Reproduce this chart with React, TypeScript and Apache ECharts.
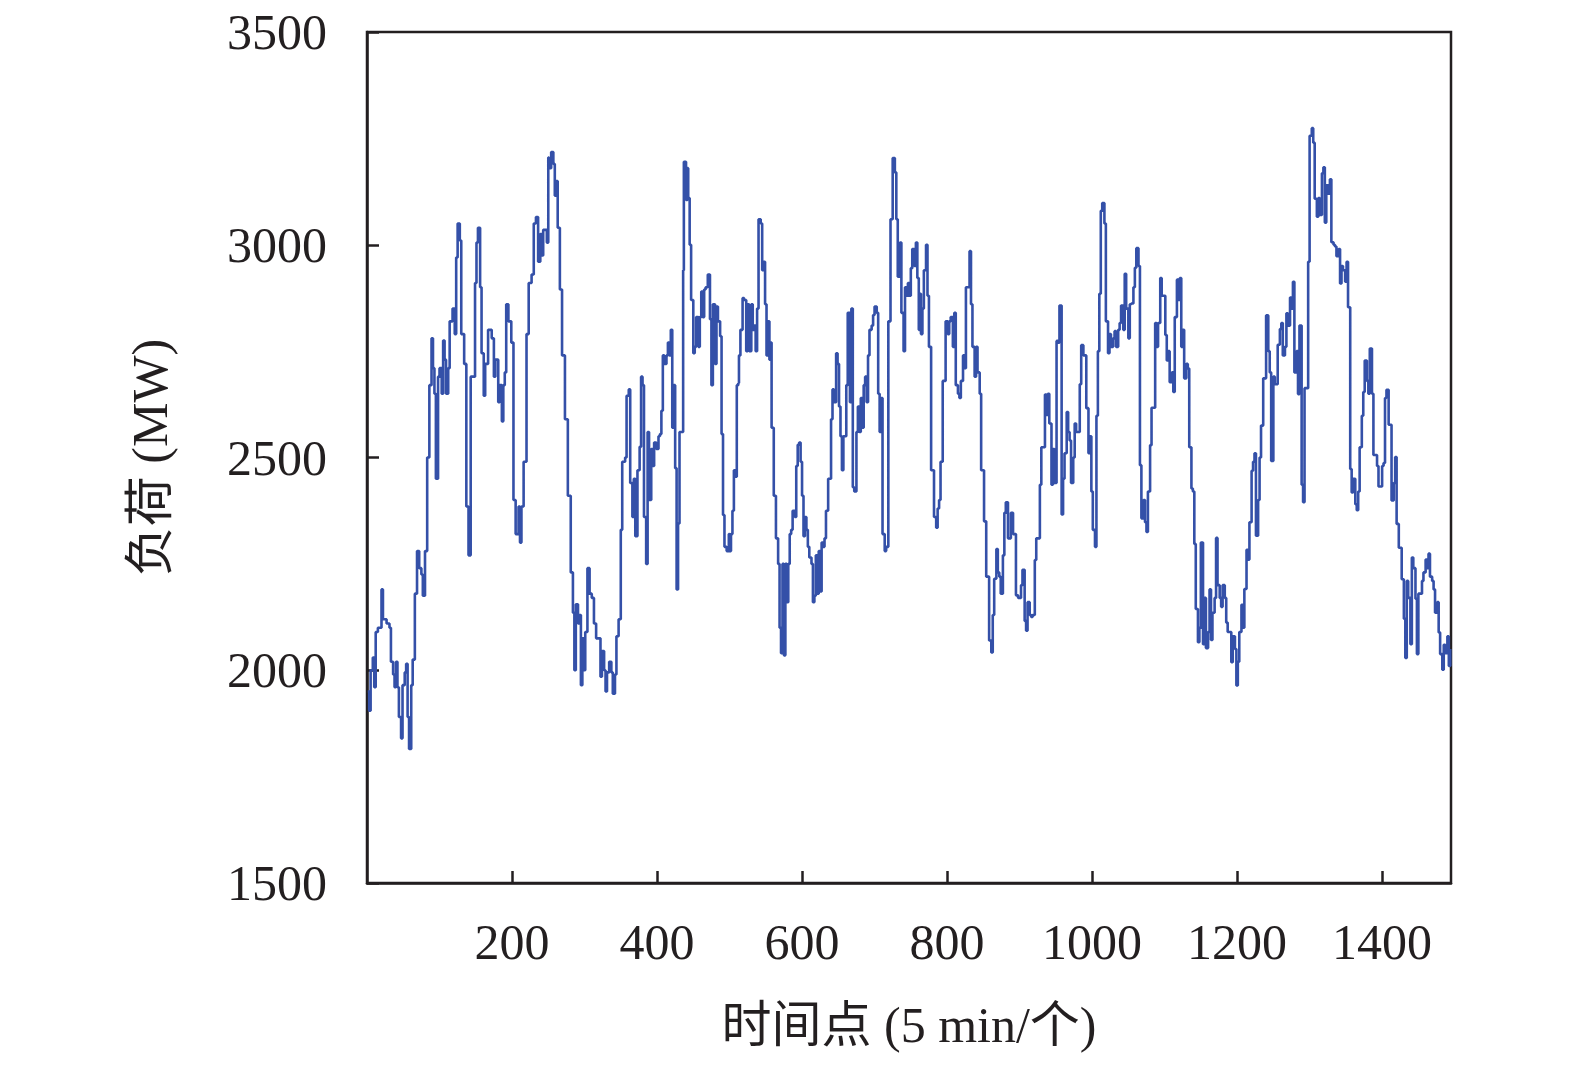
import React, { useEffect, useRef } from "react";
import * as echarts from "echarts";

// Load readings [time point, MW], split by stretch
const loadSeg1: [number, number][] = [
  [1, 1950], [3, 1905], [5, 2000], [8, 2030], [10, 1960], [12, 2090], [15, 2100], [20, 2190], [22, 2120], [27, 2110],
  [31, 2100], [33, 2020], [36, 1990], [38, 1960], [40, 2020], [42, 1960], [44, 1890], [47, 1840], [49, 1965], [52, 1995],
  [54, 2015], [56, 1890], [58, 1815], [61, 1965], [63, 2025], [66, 2180], [69, 2280], [72, 2240], [75, 2225], [77, 2175],
  [80, 2280], [83, 2500], [86, 2670], [89, 2780], [91, 2710], [93, 2650], [95, 2450], [98, 2690], [100, 2710], [103, 2650],
  [105, 2775], [107, 2730], [109, 2650], [112, 2710], [114, 2820], [118, 2850], [121, 2790], [123, 2970], [125, 3050], [128, 3010],
  [130, 2790], [134, 2720], [137, 2385], [140, 2270], [143, 2690], [146, 2690], [149, 2910], [151, 3005], [153, 3040], [156, 2900],
  [158, 2745], [161, 2645], [163, 2720], [167, 2800], [172, 2780], [175, 2690], [177, 2730], [181, 2630], [183, 2670], [186, 2585],
  [188, 2670], [190, 2700], [192, 2860], [195, 2820], [199, 2770], [202, 2400], [205, 2320], [209, 2385], [211, 2300], [213, 2385],
  [216, 2490], [220, 2790], [223, 2910], [227, 2930], [230, 3050], [233, 3065], [236, 2960], [239, 3025], [241, 2975], [243, 3035],
  [248, 3005], [250, 3205],
];

const loadSeg2: [number, number][] = [
  [251, 3180], [254, 3218], [257, 3190], [259, 3115], [261, 3150], [263, 3040], [266, 2895], [269, 2740], [273, 2590], [277, 2410],
  [281, 2230], [284, 2135], [286, 2000], [288, 2155], [291, 2110], [293, 2130], [295, 1965], [297, 2075], [299, 2000], [301, 2090],
  [304, 2240], [307, 2180], [310, 2170], [313, 2110], [316, 2075], [319, 2075], [322, 1985], [324, 2045], [327, 2000], [329, 1950],
  [331, 1995], [334, 2020], [337, 1995], [339, 1945], [342, 1990], [344, 2080], [347, 2120], [350, 2330], [352, 2490], [356, 2500],
  [358, 2645], [361, 2660], [363, 2440], [366, 2360], [368, 2450], [370, 2315], [373, 2470], [376, 2525], [378, 2690], [380, 2670],
  [382, 2360], [385, 2250], [387, 2560], [389, 2400], [392, 2520], [394, 2480], [396, 2535], [399, 2520], [402, 2550], [404, 2555],
  [406, 2610], [408, 2740], [410, 2720], [413, 2740], [415, 2770], [417, 2740], [419, 2800], [421, 2570], [423, 2670], [425, 2475],
  [427, 2190], [429, 2345], [431, 2560], [434, 2560], [436, 2940], [437, 3195], [440, 3105], [442, 3180], [443, 3110], [445, 3000],
  [447, 2870], [450, 2745], [452, 2760], [454, 2830], [457, 2760], [459, 2830], [461, 2890], [463, 2830], [465, 2895], [467, 2900],
  [470, 2930], [473, 2825], [475, 2670], [477, 2860], [480, 2720], [482, 2855], [484, 2820], [487, 2785], [489, 2555], [491, 2365],
  [493, 2290], [496, 2280], [499, 2320],
];

const loadSeg3: [number, number][] = [
  [500, 2280], [502, 2320], [504, 2375], [506, 2470], [508, 2455], [510, 2670], [512, 2675], [513, 2740], [515, 2800], [518, 2875],
  [520, 2870], [523, 2750], [525, 2860], [527, 2750], [530, 2860], [532, 2800], [534, 2810], [536, 2750], [538, 2850], [540, 3060],
  [543, 3050], [545, 2940], [547, 2960], [549, 2860], [551, 2740], [553, 2820], [555, 2730], [557, 2770], [558, 2570], [561, 2410],
  [564, 2310], [567, 2250], [569, 2100], [571, 2040], [573, 2250], [575, 2035], [577, 2250], [579, 2160], [581, 2250], [583, 2320],
  [585, 2330], [587, 2375], [590, 2360], [592, 2480], [594, 2530], [596, 2535], [598, 2490], [600, 2410], [602, 2315], [604, 2360],
  [606, 2330], [608, 2290], [610, 2265], [613, 2250], [615, 2160], [617, 2175], [619, 2270], [621, 2180], [623, 2280], [625, 2185],
  [627, 2300], [629, 2290], [631, 2310], [633, 2375], [636, 2450], [638, 2450], [640, 2590], [642, 2660], [644, 2630], [647, 2745],
  [649, 2720], [651, 2620], [653, 2550], [655, 2470], [657, 2550], [659, 2550], [661, 2670], [663, 2840], [666, 2630], [668, 2850],
  [670, 2430], [672, 2420], [675, 2560], [677, 2620], [679, 2560], [681, 2640], [683, 2570], [685, 2670], [687, 2690], [689, 2630],
  [691, 2740], [693, 2800], [696, 2810], [698, 2835], [700, 2855], [703, 2840], [705, 2650], [707, 2560], [709, 2640], [711, 2320],
  [714, 2280], [716, 2290], [719, 2820], [722, 3060], [725, 3204], [728, 3170], [730, 3060], [732, 2925], [735, 3005], [737, 2840],
  [740, 2750], [742, 2900], [745, 2880],
];

const loadSeg4: [number, number][] = [
  [746, 2910], [748, 2880], [750, 2945], [752, 2990], [755, 2950], [757, 3005], [759, 2922], [761, 2800], [762, 2885], [764, 2790],
  [766, 2850], [768, 2940], [771, 3000], [773, 2880], [775, 2760], [778, 2470], [782, 2360], [785, 2335], [787, 2380], [789, 2400],
  [791, 2490], [794, 2680], [797, 2680], [798, 2820], [801, 2790], [803, 2820], [805, 2830], [808, 2760], [810, 2840], [812, 2670],
  [815, 2650], [817, 2640], [819, 2680], [822, 2740], [824, 2710], [826, 2900], [829, 2900], [831, 2985], [833, 2860], [835, 2760],
  [838, 2690], [840, 2760], [842, 2700], [845, 2650], [847, 2470], [851, 2350], [854, 2220], [856, 2220], [858, 2070], [861, 2042],
  [863, 2130], [865, 2215], [868, 2285], [870, 2230], [872, 2220], [874, 2180], [877, 2270], [879, 2370], [881, 2395], [884, 2310],
  [886, 2310], [888, 2370], [891, 2320], [893, 2320], [895, 2176], [898, 2170], [900, 2170], [902, 2200], [904, 2236], [907, 2116],
  [909, 2093], [911, 2160], [914, 2130], [916, 2125], [918, 2130], [921, 2259], [923, 2310], [925, 2310], [928, 2436], [930, 2524],
  [932, 2524], [935, 2648], [937, 2600], [939, 2650], [941, 2580], [944, 2436], [946, 2520], [948, 2440], [951, 2774], [953, 2770],
  [955, 2857], [958, 2366], [960, 2450], [962, 2510], [965, 2607], [967, 2560], [969, 2540], [971, 2440], [974, 2500], [976, 2580],
  [978, 2560], [981, 2560], [983, 2672], [985, 2764], [988, 2740], [990, 2740], [992, 2616], [995, 2510],
];

const loadSeg5: [number, number][] = [
  [997, 2550], [999, 2420], [1001, 2330], [1004, 2290], [1006, 2598], [1008, 2750], [1010, 2885], [1012, 3080], [1014, 3098], [1017, 3050],
  [1019, 2820], [1022, 2745], [1024, 2790], [1026, 2760], [1029, 2780], [1031, 2797], [1033, 2760], [1036, 2800], [1038, 2816], [1040, 2857],
  [1043, 2800], [1045, 2932], [1047, 2850], [1050, 2780], [1052, 2860], [1054, 2862], [1057, 2900], [1059, 2946], [1061, 2992], [1064, 2950],
  [1066, 2482], [1068, 2357], [1071, 2400], [1073, 2348], [1075, 2325], [1077, 2420], [1080, 2529], [1082, 2617], [1084, 2617], [1087, 2816],
  [1089, 2760], [1091, 2816], [1094, 2922], [1096, 2880], [1098, 2880], [1101, 2788], [1103, 2728], [1105, 2750], [1107, 2677], [1110, 2700],
  [1112, 2654], [1114, 2830], [1117, 2918], [1119, 2870], [1121, 2922], [1123, 2760], [1125, 2800], [1127, 2686], [1130, 2720], [1132, 2709],
  [1134, 2524], [1137, 2427], [1139, 2420], [1141, 2297], [1143, 2144], [1146, 2066], [1148, 2100], [1150, 2300], [1153, 2061], [1155, 2170],
  [1157, 2052], [1160, 2090], [1162, 2190], [1164, 2071], [1166, 2135], [1169, 2170], [1171, 2311], [1173, 2200], [1176, 2170], [1178, 2149],
  [1180, 2200], [1183, 2170], [1185, 2112], [1187, 2090], [1190, 2090], [1192, 2019], [1194, 2080], [1197, 2050], [1199, 1964], [1201, 2020],
  [1203, 2090], [1206, 2154], [1208, 2100], [1210, 2191], [1213, 2283], [1215, 2260], [1217, 2348], [1220, 2469], [1222, 2490], [1224, 2510],
  [1226, 2316], [1229, 2400], [1231, 2500], [1233, 2575], [1236, 2686], [1238, 2686], [1240, 2834], [1243, 2750],
];

const loadSeg6: [number, number][] = [
  [1245, 2700], [1247, 2492], [1250, 2690], [1252, 2672], [1256, 2765], [1259, 2802], [1261, 2816], [1263, 2740], [1266, 2760], [1268, 2839],
  [1270, 2810], [1273, 2876], [1275, 2850], [1277, 2913], [1279, 2700], [1282, 2750], [1284, 2649], [1286, 2810], [1289, 2436], [1291, 2395],
  [1293, 2663], [1296, 2663], [1298, 2960], [1300, 3256], [1303, 3274], [1305, 3240], [1307, 3108], [1310, 3066], [1312, 3110], [1314, 3070],
  [1317, 3168], [1319, 3182], [1321, 3052], [1323, 3140], [1326, 3120], [1328, 3154], [1330, 3006], [1333, 3000], [1335, 2996], [1337, 2973],
  [1340, 2990], [1342, 2909], [1344, 2950], [1346, 2940], [1349, 2913], [1351, 2960], [1353, 2853], [1356, 2473], [1358, 2418], [1360, 2450],
  [1363, 2390], [1365, 2376], [1367, 2420], [1369, 2524], [1372, 2598], [1374, 2654], [1376, 2728], [1379, 2680], [1381, 2650], [1383, 2756],
  [1386, 2650], [1388, 2506], [1393, 2480], [1395, 2432], [1400, 2480], [1402, 2487], [1404, 2640], [1406, 2659], [1409, 2577], [1413, 2399],
  [1416, 2440], [1418, 2501], [1420, 2344], [1423, 2288], [1427, 2214], [1430, 2121], [1432, 2029], [1434, 2210], [1436, 2170], [1439, 2061],
  [1441, 2265], [1443, 2240], [1446, 2168], [1448, 2038], [1450, 2180], [1455, 2210], [1457, 2230], [1460, 2260], [1462, 2240], [1464, 2274],
  [1466, 2220], [1469, 2210], [1471, 2190], [1473, 2135], [1476, 2160], [1478, 2089], [1480, 2038], [1483, 2001], [1485, 2060], [1487, 2040],
  [1490, 2080], [1492, 2010], [1494, 2050],
];

const xTickInterval = 200;
const yTickInterval = 500;
const xName = "时间点 (5 min/个)";
const yName = "负荷 (MW)";

const INK = "#231f20";
const LINE = "#3450a8";
const FONT = "'Liberation Serif', 'Times New Roman', 'Noto Sans CJK SC', serif";

export default function App() {
  const ref = useRef<HTMLDivElement>(null);

  useEffect(() => {
    if (!ref.current) return;
    const chart = echarts.init(ref.current, undefined, { renderer: "svg" });
    const data = [...loadSeg1, ...loadSeg2, ...loadSeg3, ...loadSeg4, ...loadSeg5, ...loadSeg6];
    const plain = (v: number) => String(v);
    chart.setOption({
      animation: false,
      grid: {
        left: 367,
        top: 32,
        right: 1575 - 1451,
        bottom: 1066 - 883,
        show: true,
        borderColor: INK,
        borderWidth: 2.5,
        backgroundColor: "transparent",
      },
      xAxis: {
        type: "value",
        min: 0,
        max: 1495,
        interval: xTickInterval,
        axisLine: { show: true, onZero: false, lineStyle: { color: INK, width: 2.5 } },
        axisTick: { show: true, inside: true, length: 12, lineStyle: { color: INK, width: 2.5 } },
        splitLine: { show: false },
        axisLabel: {
          color: INK,
          fontSize: 50,
          fontFamily: FONT,
          margin: 34,
          showMinLabel: false,
          showMaxLabel: false,
          formatter: plain,
        },
        name: xName,
        nameLocation: "middle",
        nameGap: 117,
        nameTextStyle: { color: INK, fontSize: 50, fontFamily: FONT },
      },
      yAxis: {
        type: "value",
        min: 1500,
        max: 3500,
        interval: yTickInterval,
        axisLine: { show: true, onZero: false, lineStyle: { color: INK, width: 2.5 } },
        axisTick: { show: true, inside: true, length: 12, lineStyle: { color: INK, width: 2.5 } },
        splitLine: { show: false },
        axisLabel: { color: INK, fontSize: 50, fontFamily: FONT, margin: 40, formatter: plain },
        name: yName,
        nameLocation: "middle",
        nameGap: 192,
        nameRotate: 90,
        nameTextStyle: { color: INK, fontSize: 50, fontFamily: FONT },
      },
      series: [
        {
          type: "line",
          step: "end",
          data,
          showSymbol: false,
          symbol: "none",
          lineStyle: { color: LINE, width: 2.6 },
          silent: true,
        },
      ],
    });
    return () => chart.dispose();
  }, []);

  return (
    <div
      ref={ref}
      style={{ position: "fixed", left: 0, top: 0, width: 1575, height: 1066, background: "#fff" }}
    />
  );
}
